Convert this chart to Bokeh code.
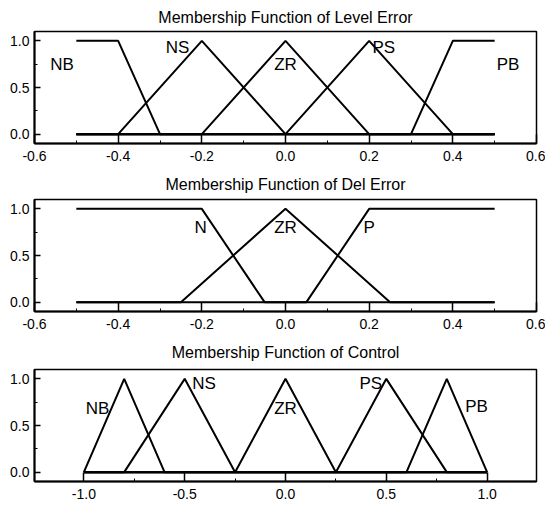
from bokeh.plotting import figure
from bokeh.layouts import column
from bokeh.models import Range1d, FixedTicker, ColumnDataSource, NumeralTickFormatter
from bokeh.core.properties import value
from bokeh.embed import file_html
from bokeh.resources import INLINE

FONT = "Liberation Sans"

# ---- Level Error membership functions ----
level_nb_x = [-0.5, -0.4, -0.3, 0.5]
level_nb_y = [1, 1, 0, 0]
level_ns_x = [-0.5, -0.4, -0.2, 0.0, 0.5]
level_ns_y = [0, 0, 1, 0, 0]
level_zr_x = [-0.5, -0.2, 0.0, 0.2, 0.5]
level_zr_y = [0, 0, 1, 0, 0]
level_ps_x = [-0.5, 0.0, 0.2, 0.4, 0.5]
level_ps_y = [0, 0, 1, 0, 0]
level_pb_x = [-0.5, 0.3, 0.4, 0.5]
level_pb_y = [0, 0, 1, 1]
level_labels = ["NB", "NS", "ZR", "PS", "PB"]
level_label_x = [-0.534, -0.258, 0.0, 0.235, 0.532]
level_label_y = [0.75, 0.93, 0.75, 0.93, 0.75]
level_xticks = [-0.6, -0.4, -0.2, 0.0, 0.2, 0.4, 0.6]
level_xminor = [-0.5, -0.3, -0.1, 0.1, 0.3, 0.5]

# ---- Del Error membership functions ----
del_n_x = [-0.5, -0.2, -0.05, 0.5]
del_n_y = [1, 1, 0, 0]
del_zr_x = [-0.5, -0.25, 0.0, 0.25, 0.5]
del_zr_y = [0, 0, 1, 0, 0]
del_p_x = [-0.5, 0.05, 0.2, 0.5]
del_p_y = [0, 0, 1, 1]
del_labels = ["N", "ZR", "P"]
del_label_x = [-0.203, 0.0, 0.2]
del_label_y = [0.80, 0.80, 0.80]
del_xticks = [-0.6, -0.4, -0.2, 0.0, 0.2, 0.4, 0.6]
del_xminor = [-0.5, -0.3, -0.1, 0.1, 0.3, 0.5]

# ---- Control membership functions ----
ctl_nb_x = [-1.0, -0.8, -0.6, 1.0]
ctl_nb_y = [0, 1, 0, 0]
ctl_ns_x = [-1.0, -0.8, -0.5, -0.25, 1.0]
ctl_ns_y = [0, 0, 1, 0, 0]
ctl_zr_x = [-1.0, -0.25, 0.0, 0.25, 1.0]
ctl_zr_y = [0, 0, 1, 0, 0]
ctl_ps_x = [-1.0, 0.25, 0.5, 0.8, 1.0]
ctl_ps_y = [0, 0, 1, 0, 0]
ctl_pb_x = [-1.0, 0.6, 0.8, 1.0]
ctl_pb_y = [0, 0, 1, 0]
ctl_labels = ["NB", "NS", "ZR", "PS", "PB"]
ctl_label_x = [-0.932, -0.404, 0.0, 0.423, 0.948]
ctl_label_y = [0.68, 0.95, 0.68, 0.95, 0.70]
ctl_xticks = [-1.0, -0.5, 0.0, 0.5, 1.0]
ctl_xminor = [-0.75, -0.25, 0.25, 0.75]

yticks = [0.0, 0.5, 1.0]
yminor = [0.25, 0.75]


def make_fig(title, xr, yr, height, top, bottom, title_standoff, curves, lab_x, lab_y,
             labs, xticks, xminor):
    p = figure(width=545, height=height, x_range=Range1d(*xr), y_range=Range1d(*yr),
               output_backend="svg", toolbar_location=None,
               min_border_left=34, min_border_right=9,
               min_border_top=top, min_border_bottom=bottom)
    p.title.text = title
    p.title.align = "center"
    p.title.text_font = FONT
    p.title.text_font_size = "16px"
    p.title.text_font_style = "normal"
    p.title.text_color = "black"
    p.title.standoff = title_standoff
    p.xgrid.visible = False
    p.ygrid.visible = False
    p.outline_line_color = "black"
    p.outline_line_width = 1.5
    p.outline_line_alpha = 1.0
    p.background_fill_color = "white"
    p.border_fill_color = "white"

    p.xaxis.ticker = FixedTicker(ticks=xticks, minor_ticks=xminor)
    p.yaxis.ticker = FixedTicker(ticks=yticks, minor_ticks=yminor)
    for ax in (p.xaxis, p.yaxis):
        ax.formatter = NumeralTickFormatter(format="0.0")
        ax.axis_line_color = "black"
        ax.axis_line_width = 2
        ax.major_tick_line_color = "black"
        ax.minor_tick_line_color = "black"
        ax.major_tick_line_width = 1.5
        ax.minor_tick_line_width = 1
        ax.major_tick_out = 0
        ax.minor_tick_out = 0
        ax.minor_tick_in = 3
        ax.major_label_text_font = FONT
        ax.major_label_text_font_size = "14px"
        ax.major_label_text_color = "black"
    p.xaxis.major_tick_in = 9
    p.yaxis.major_tick_in = 6
    p.xaxis.major_label_standoff = 7
    p.yaxis.major_label_standoff = 5

    for xs, ys in curves:
        p.line(xs, ys, line_color="black", line_width=2)

    src = ColumnDataSource(dict(x=lab_x, y=lab_y, t=labs))
    p.text(x="x", y="y", text="t", source=src, text_font=value(FONT),
           text_font_size="17px", text_align="center", text_baseline="middle",
           text_color="black")
    return p


p1 = make_fig("Membership Function of Level Error", (-0.6, 0.6), (-0.1, 1.1), 166, 31, 23, 12,
              [(level_nb_x, level_nb_y), (level_ns_x, level_ns_y), (level_zr_x, level_zr_y),
               (level_ps_x, level_ps_y), (level_pb_x, level_pb_y)],
              level_label_x, level_label_y, level_labels, level_xticks, level_xminor)
p2 = make_fig("Membership Function of Del Error", (-0.6, 0.6), (-0.1, 1.1), 167, 33, 22, 13,
              [(del_n_x, del_n_y), (del_zr_x, del_zr_y), (del_p_x, del_p_y)],
              del_label_x, del_label_y, del_labels, del_xticks, del_xminor)
p3 = make_fig("Membership Function of Control", (-1.245, 1.245), (-0.1, 1.1), 172, 36, 24, 17,
              [(ctl_nb_x, ctl_nb_y), (ctl_ns_x, ctl_ns_y), (ctl_zr_x, ctl_zr_y),
               (ctl_ps_x, ctl_ps_y), (ctl_pb_x, ctl_pb_y)],
              ctl_label_x, ctl_label_y, ctl_labels, ctl_xticks, ctl_xminor)

layout = column(p1, p2, p3, spacing=0)
open("out.html", "w").write(file_html(layout, INLINE))
